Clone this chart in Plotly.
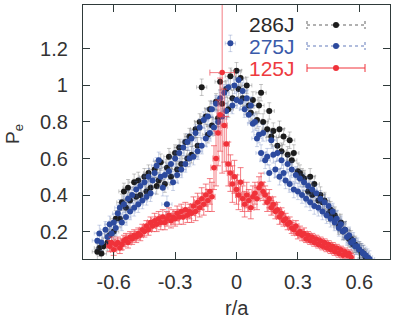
import plotly.graph_objects as go

# ---------------- data ----------------
r_286 = [-0.68,-0.67,-0.66,-0.65,-0.63,-0.62,-0.60,-0.59,-0.57,-0.56,-0.55,-0.54,-0.53,-0.52,-0.50,-0.49,-0.48,-0.47,
         -0.45,-0.44,-0.43,-0.42,-0.40,-0.39,-0.38,-0.37,-0.35,-0.34,-0.33,-0.32,-0.30,-0.29,-0.28,-0.27,-0.25,-0.24,
         -0.23,-0.22,-0.20,-0.19,-0.18,-0.17,-0.15,-0.14,-0.13,-0.12,-0.10,-0.09,-0.08,-0.07,-0.05,-0.04,-0.03,-0.02,
         0.00,0.01,0.02,0.03,0.05,0.06,0.07,0.08,0.10,0.11,0.12,0.13,0.15,0.16,0.17,0.18,0.20,0.21,0.22,0.23,0.25,0.26,
         0.27,0.28,0.30,0.31,0.32,0.33,0.35,0.36,0.37,0.38,0.40,0.41,0.42,0.43,0.45,0.46,0.47,0.48,0.50,0.51,0.52,0.53,
         0.55,0.56,0.57,0.58,0.60,0.61,0.62,0.63]
p_286 = [0.09,0.11,0.08,0.12,0.14,0.18,0.20,0.27,0.27,0.36,0.42,0.33,0.44,0.37,0.47,0.39,0.48,0.40,
         0.50,0.42,0.52,0.44,0.54,0.45,0.48,0.58,0.46,0.55,0.61,0.50,0.63,0.54,0.66,0.57,0.69,0.60,
         0.72,0.62,0.76,0.67,0.80,0.99,0.83,0.73,0.87,0.78,0.91,0.82,1.02,0.90,0.98,0.87,1.05,0.93,
         1.08,0.98,1.04,0.93,1.00,0.89,0.85,0.92,0.81,0.89,0.96,0.80,0.76,0.86,0.72,0.75,0.67,0.76,0.64,0.72,0.62,0.70,
         0.59,0.63,0.53,0.52,0.50,0.49,0.42,0.50,0.40,0.46,0.37,0.40,0.36,0.37,0.30,0.32,0.28,0.29,0.23,0.25,0.20,0.21,
         0.16,0.16,0.13,0.13,0.10,0.09,0.08,0.06]

r_275 = [-0.68,-0.67,-0.66,-0.64,-0.63,-0.62,-0.61,-0.60,-0.59,-0.58,-0.57,-0.56,-0.55,-0.54,-0.53,-0.52,-0.51,-0.50,
         -0.49,-0.48,-0.47,-0.46,-0.45,-0.44,-0.43,-0.42,-0.41,-0.40,-0.39,-0.38,-0.37,-0.36,-0.35,-0.34,-0.33,-0.32,
         -0.31,-0.30,-0.29,-0.28,-0.27,-0.26,-0.25,-0.24,-0.23,-0.22,-0.21,-0.20,-0.19,-0.18,-0.17,-0.16,-0.15,-0.14,
         -0.13,-0.12,-0.11,-0.10,-0.09,-0.08,-0.07,-0.06,-0.05,-0.04,-0.03,-0.02,-0.01,0.00,0.01,0.02,0.03,0.04,0.05,
         0.06,0.07,0.08,0.09,0.10,0.11,0.12,0.13,0.14,0.15,0.16,0.17,0.18,0.19,0.20,0.21,0.22,0.23,0.24,0.25,0.26,0.27,
         0.28,0.29,0.30,0.31,0.32,0.33,0.34,0.35,0.36,0.37,0.38,0.39,0.40,0.41,0.42,0.43,0.44,0.45,0.46,0.47,0.48,0.49,
         0.50,0.51,0.52,0.53,0.54,0.55,0.56,0.57,0.58,0.59,0.60,0.61,0.62,0.63,0.64,0.65]
p_275 = [0.15,0.19,0.14,0.21,0.17,0.24,0.19,0.25,0.22,0.30,0.33,0.25,0.35,0.28,0.38,0.31,0.40,0.33,
         0.43,0.35,0.45,0.37,0.47,0.39,0.50,0.41,0.48,0.52,0.56,0.59,0.50,0.44,0.51,0.35,0.53,0.57,
         0.47,0.60,0.51,0.63,0.54,0.66,0.57,0.69,0.60,0.71,0.61,0.74,0.64,0.77,0.67,0.81,0.71,0.83,
         0.74,0.87,0.77,0.90,0.80,0.93,0.83,0.96,0.86,0.99,1.23,0.89,1.00,0.92,1.03,0.91,0.97,0.87,0.93,
         0.84,0.89,0.79,0.80,0.71,0.73,0.63,0.74,0.59,0.61,0.52,0.70,0.62,0.54,0.63,0.50,0.59,0.52,0.48,0.57,0.46,0.54,
         0.43,0.51,0.42,0.49,0.40,0.47,0.38,0.45,0.36,0.43,0.34,0.41,0.33,0.38,0.31,0.36,0.29,0.34,0.27,0.31,0.25,0.27,
         0.22,0.24,0.20,0.21,0.17,0.18,0.14,0.15,0.12,0.12,0.10,0.09,0.08,0.07,0.06,0.05]

r_125 = [-0.62,-0.61,-0.60,-0.59,-0.58,-0.57,-0.56,-0.55,-0.54,-0.53,-0.52,-0.51,-0.50,-0.49,-0.48,-0.47,-0.46,-0.45,
         -0.44,-0.43,-0.42,-0.41,-0.40,-0.39,-0.38,-0.37,-0.36,-0.35,-0.34,-0.33,-0.32,-0.31,-0.30,-0.29,-0.28,-0.27,
         -0.26,-0.25,-0.24,-0.23,-0.22,-0.21,-0.20,-0.19,-0.18,-0.17,-0.16,-0.15,-0.14,-0.13,-0.12,-0.11,-0.10,-0.09,
         -0.08,-0.07,-0.06,-0.05,-0.04,-0.03,-0.02,-0.01,0.00,0.01,0.02,0.03,0.04,0.05,0.06,0.07,0.08,0.09,0.10,0.11,
         0.12,0.13,0.14,0.15,0.16,0.17,0.18,0.19,0.20,0.21,0.22,0.23,0.24,0.25,0.26,0.27,0.28,0.29,0.30,0.31,0.32,0.33,
         0.34,0.35,0.36,0.37,0.38,0.39,0.40,0.41,0.42,0.43,0.44,0.45,0.46,0.47,0.48,0.49,0.50,0.51,0.52,0.53,0.54,0.55,
         0.56]
p_125 = [0.12,0.14,0.10,0.13,0.14,0.11,0.13,0.15,0.16,0.14,0.17,0.16,0.18,0.17,0.19,0.18,0.21,0.20,
         0.23,0.21,0.25,0.23,0.26,0.24,0.27,0.25,0.28,0.25,0.27,0.29,0.26,0.28,0.27,0.30,0.28,0.31,
         0.28,0.32,0.29,0.31,0.30,0.34,0.31,0.36,0.33,0.38,0.35,0.40,0.37,0.42,0.39,0.55,0.60,0.74,
         0.84,1.07,0.78,0.68,0.57,0.52,0.46,0.50,0.43,0.40,0.47,0.38,0.35,0.40,0.37,0.33,0.39,0.41,0.38,0.44,
         0.46,0.42,0.40,0.36,0.38,0.33,0.35,0.31,0.32,0.28,0.30,0.26,0.27,0.24,0.25,0.22,0.21,0.23,0.19,0.20,0.18,0.19,
         0.16,0.18,0.15,0.17,0.14,0.16,0.13,0.15,0.12,0.14,0.11,0.13,0.10,0.12,0.09,0.11,0.08,0.10,0.07,0.09,0.07,0.08,
         0.06]
yerr_125 = [0.03,0.03,0.03,0.03,0.03,0.03,0.03,0.03,0.03,0.03,0.03,0.03,0.03,0.03,0.03,0.03,0.03,0.03,
            0.03,0.03,0.03,0.03,0.04,0.04,0.04,0.04,0.04,0.04,0.04,0.04,0.04,0.04,0.04,0.04,0.04,0.04,
            0.04,0.04,0.04,0.04,0.05,0.05,0.05,0.05,0.05,0.06,0.06,0.06,0.06,0.07,0.08,0.12,0.15,0.18,
            0.20,0.55,0.20,0.15,0.12,0.10,0.10,0.09,0.08,0.08,0.08,0.07,0.07,0.07,0.06,0.06,0.06,0.06,0.06,0.06,
            0.06,0.05,0.05,0.05,0.05,0.04,0.04,0.04,0.04,0.04,0.03,0.03,0.03,0.03,0.03,0.03,0.03,0.03,0.03,0.03,0.03,0.03,
            0.02,0.02,0.02,0.02,0.02,0.02,0.02,0.02,0.02,0.02,0.02,0.02,0.02,0.02,0.02,0.02,0.02,0.02,0.02,0.02,0.02,0.02,
            0.02]
xerr_125 = [0.015] * 55 + [0.06] + [0.015] * (len(r_125) - 56)

x_ticks = [-0.6, -0.3, 0, 0.3, 0.6]
x_labels = ["-0.6", "-0.3", "0", "0.3", "0.6"]
y_ticks = [0.2, 0.4, 0.6, 0.8, 1.0, 1.2]
y_labels = ["0.2", "0.4", "0.6", "0.8", "1", "1.2"]

series_names = ["286J", "275J", "125J"]
colors = ["#1c1c1c", "#2c4a9e", "#f0323a"]
text_colors = ["#2a2a2a", "#3a5aaa", "#ee3a3e"]

W, H = 398, 324
L, R, T, B = 83, 8, 5, 65
PW, PH = W - L - R, H - T - B

def px(xp):
    return (xp - L) / PW

def py(yp):
    return (H - B - yp) / PH

fig = go.Figure()

fig.add_trace(go.Scatter(
    x=r_286, y=p_286, mode="markers", name=series_names[0],
    marker=dict(color=colors[0], size=6),
    error_y=dict(type="constant", value=0.045, color="rgba(80,80,80,0.4)", thickness=0.8, width=2),
    error_x=dict(type="constant", value=0.025, color="rgba(80,80,80,0.4)", thickness=0.8, width=2),
))
fig.add_trace(go.Scatter(
    x=r_275, y=p_275, mode="markers", name=series_names[1],
    marker=dict(color=colors[1], size=6),
    error_y=dict(type="constant", value=0.045, color="rgba(70,100,170,0.35)", thickness=0.8, width=2),
    error_x=dict(type="constant", value=0.025, color="rgba(70,100,170,0.35)", thickness=0.8, width=2),
))
fig.add_trace(go.Scatter(
    x=r_125, y=p_125, mode="markers", name=series_names[2],
    marker=dict(color=colors[2], size=5.5),
    error_y=dict(type="data", array=yerr_125, color="rgba(240,70,80,0.7)", thickness=1, width=3),
    error_x=dict(type="data", array=xerr_125, color="rgba(240,70,80,0.7)", thickness=1, width=3),
))

axis_common = dict(
    showline=True, linecolor="#2f3a3a", linewidth=1.3, mirror="allticks",
    ticks="inside", ticklen=7, tickcolor="#2f3a3a", tickwidth=1.3,
    showgrid=False, zeroline=False,
    tickfont=dict(family="Liberation Sans, Arial, sans-serif", size=20, color="#333"),
)

fig.update_layout(
    width=W, height=H,
    margin=dict(l=L, r=R, t=T, b=B),
    paper_bgcolor="white", plot_bgcolor="white",
    showlegend=False,
    xaxis=dict(range=[-0.75, 0.75], tickvals=x_ticks, ticktext=x_labels,
               ticklabelstandoff=5, **axis_common),
    yaxis=dict(range=[0.05, 1.44], tickvals=y_ticks, ticktext=y_labels,
               ticklabelstandoff=10, **axis_common),
)

font_fam = "Liberation Sans, Arial, sans-serif"
annotations = [
    dict(text="r/a", xref="paper", yref="paper", x=px(236.5), y=py(308), xanchor="center", yanchor="middle",
         showarrow=False, font=dict(family=font_fam, size=20, color="#333")),
    dict(text="P<sub>e</sub>", xref="paper", yref="paper", x=px(14), y=py(134), xanchor="center", yanchor="middle",
         textangle=-90, showarrow=False, font=dict(family=font_fam, size=19, color="#333")),
]
shapes = []
leg_y = [25, 46, 68]
dashes = ["dot", "dot", "solid"]
for i, name in enumerate(series_names):
    yy = leg_y[i]
    annotations.append(dict(text=name, xref="paper", yref="paper", x=px(297), y=py(yy),
                            xanchor="right", yanchor="middle", showarrow=False,
                            font=dict(family=font_fam, size=21, color=text_colors[i])))
    lc = colors[i] if i == 2 else ("rgba(60,60,60,0.8)" if i == 0 else "rgba(60,90,170,0.8)")
    shapes.append(dict(type="line", xref="paper", yref="paper", x0=px(307), x1=px(365), y0=py(yy), y1=py(yy),
                       line=dict(color=lc, width=1, dash=dashes[i])))
    for xe in (307, 365):
        shapes.append(dict(type="line", xref="paper", yref="paper", x0=px(xe), x1=px(xe),
                           y0=py(yy - 4), y1=py(yy + 4), line=dict(color=lc, width=1, dash=dashes[i])))
    shapes.append(dict(type="circle", xref="paper", yref="paper", x0=px(333), x1=px(339),
                       y0=py(yy + 3), y1=py(yy - 3), fillcolor=colors[i], line=dict(width=0)))

fig.update_layout(annotations=annotations, shapes=shapes)

fig.write_html("out.html")
